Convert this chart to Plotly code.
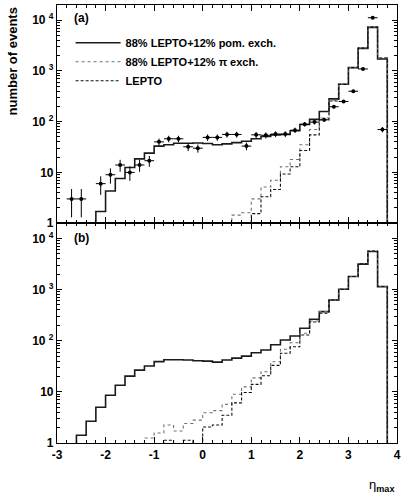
import numpy as np
import plotly.graph_objects as go

# bin edges of eta_max histograms (0.2 wide, -3 .. 4)
bin_edges = np.round(np.arange(-3.0, 4.0001, 0.2), 1).tolist()

# ---- panel (a) ----
a_pom = [0.5, 0.5, 0.5, 0.5, 1.7, 4.3, 7.6, 12.5, 18.5, 24, 33, 35, 37.5, 37.5, 38,
         37, 35, 36.5, 38.6, 41, 46, 51, 55, 56, 66, 88, 111, 159, 281, 546, 1160, 2770, 7200, 1720, 0.1]
a_pi = [0.5, 0.5, 0.5, 0.5, 0.5, 0.5, 0.5, 0.5, 0.5, 0.5, 0.5, 0.5, 0.5, 0.5, 0.5,
        0.5, 0.5, 0.5, 1.44, 1.6, 3.0, 5.15, 7.0, 12.9, 18, 35, 70, 118, 265, 546, 1160, 2850, 7400, 1800, 0.1]
a_lepto = [0.5, 0.5, 0.5, 0.5, 0.5, 0.5, 0.5, 0.5, 0.5, 0.5, 0.5, 0.5, 0.5, 0.5, 0.5,
           0.5, 0.5, 0.5, 0.5, 0.5, 1.54, 3.3, 4.6, 9.3, 12.9, 27, 55, 108, 255, 546, 1160, 2850, 7400, 1800, 0.1]

data_x = [-2.7, -2.5, -2.1, -1.9, -1.7, -1.5, -1.3, -1.1, -0.9, -0.7, -0.5, -0.3, -0.1, 0.1, 0.3, 0.5,
          0.7, 0.9, 1.1, 1.3, 1.5, 1.7, 1.9, 2.1, 2.3, 2.5, 2.7, 2.9, 3.1, 3.3, 3.5, 3.7]
data_y = [3, 3, 6, 9, 14, 10, 14, 17, 40, 46, 46, 32, 30, 49, 49, 56,
          56, 33, 55, 54, 57, 57, 68, 89, 98, 109, 197, 250, 398, 1095, 11200, 70]
data_err = [1.7, 1.7, 2.4, 3.0, 3.7, 3.2, 3.7, 4.1, 6.3, 6.8, 6.8, 5.7, 5.5, 7.0, 7.0, 7.5,
            7.5, 5.7, 7.4, 7.3, 7.5, 7.5, 8.2, 9.4, 9.9, 10.4, 14, 16, 20, 33, 106, 8.4]

# ---- panel (b) ----
b_pom = [0.5, 0.5, 1.42, 2.66, 5.0, 8.6, 13.5, 20.3, 26.6, 32, 39, 42.4, 42.4, 42, 40.5,
         40, 38.2, 42, 45.7, 50, 58, 66, 83.5, 103, 124, 175, 263, 370, 628, 1018, 1800, 3150, 5560, 1145, 0.1]
b_pi = [0.5, 0.5, 0.5, 0.5, 0.5, 0.5, 0.5, 0.5, 0.5, 1.25, 1.57, 2.25, 1.72, 2.4, 2.8,
        3.9, 4.3, 5.7, 9.0, 12.5, 18.8, 24.7, 38.7, 68, 91, 140, 243, 370, 628, 1018, 1800, 3200, 5700, 1150, 0.1]
b_lepto = [0.5, 0.5, 0.5, 0.5, 0.5, 0.5, 0.5, 0.5, 0.5, 0.5, 0.5, 1.13, 0.5, 1.13, 0.5,
           2.06, 2.25, 3.5, 6.1, 9.7, 14, 20.6, 33, 57, 76, 129, 233, 344, 628, 1018, 1800, 3200, 5700, 1150, 0.1]

y_tickvals = [1, 10, 100, 1000, 10000]
y_ticktext = ["<b>1</b>", "<b>10</b>", "<b>10 <sup>2</sup></b>", "<b>10 <sup>3</sup></b>", "<b>10 <sup>4</sup></b>"]
y_minor = [m * 10 ** d for d in range(0, 5) for m in range(2, 10) if m * 10 ** d < 20000]
x_tickvals = [-3, -2, -1, 0, 1, 2, 3, 4]
x_ticktext = ["<b>-3</b>", "<b>-2</b>", "<b>-1</b>", "<b>0</b>", "<b>1</b>", "<b>2</b>", "<b>3</b>", "<b>4</b>"]

legend_names = ["88% LEPTO+12% pom. exch.", "88% LEPTO+12% \u03c0 exch.", "LEPTO"]

FONT = "Liberation Sans, Arial, Helvetica, sans-serif"


def step_xy(vals):
    return bin_edges, list(vals) + [vals[-1]]


styles = [
    dict(color="#1a1a1a", width=1.6, dash="solid"),
    dict(color="#707070", width=1.1, dash="dot"),
    dict(color="#111111", width=1.1, dash="3px,2px"),
]

fig = go.Figure()

for i, (vals, st) in enumerate(zip([a_pom, a_pi, a_lepto], styles)):
    x, y = step_xy(vals)
    fig.add_trace(go.Scatter(x=x, y=y, mode="lines", line=dict(shape="hv", **st),
                             name="<b>" + legend_names[i] + "</b>", showlegend=True,
                             xaxis="x", yaxis="y"))

fig.add_trace(go.Scatter(x=data_x, y=data_y, mode="markers",
                         marker=dict(color="black", size=4),
                         error_y=dict(type="data", array=data_err, color="black", thickness=1, width=0),
                         error_x=dict(type="constant", value=0.1, color="black", thickness=1, width=0),
                         showlegend=False, xaxis="x", yaxis="y"))

for vals, st in zip([b_pom, b_pi, b_lepto], styles):
    x, y = step_xy(vals)
    fig.add_trace(go.Scatter(x=x, y=y, mode="lines", line=dict(shape="hv", **st),
                             showlegend=False, xaxis="x2", yaxis="y2"))

split = 0.502

xcommon = dict(range=[-3, 4], showgrid=False, zeroline=False, showline=True, linecolor="black",
               linewidth=1.2, mirror="ticks", ticks="inside", ticklen=6, tickwidth=1, tickcolor="black",
               tickmode="array", tickvals=x_tickvals, ticktext=x_ticktext,
               minor=dict(dtick=0.2, tick0=0, ticks="inside", ticklen=3, tickwidth=1, tickcolor="black",
                          showgrid=False),
               tickfont=dict(family=FONT, size=12, color="black"))
ycommon = dict(type="log", range=[0, 4.3], showgrid=False, zeroline=False, showline=True,
               linecolor="black", linewidth=1.2, mirror="ticks", ticks="inside", ticklen=5, tickwidth=1,
               tickcolor="black", tickmode="array", tickvals=y_tickvals, ticktext=y_ticktext,
               minor=dict(tickmode="array", tickvals=y_minor, ticks="inside", ticklen=2.5, tickwidth=1,
                          tickcolor="black", showgrid=False),
               tickfont=dict(family=FONT, size=12, color="black"))

fig.update_layout(
    width=405, height=496,
    margin=dict(l=57, r=5, t=4, b=53),
    paper_bgcolor="white", plot_bgcolor="white",
    xaxis=dict(anchor="y", showticklabels=False, **xcommon),
    yaxis=dict(domain=[split, 1], anchor="x", **ycommon),
    xaxis2=dict(anchor="y2", showticklabels=True, **xcommon),
    yaxis2=dict(domain=[0, split], anchor="x2", **ycommon),
    showlegend=True,
    legend=dict(x=0.04, y=0.947, xanchor="left", yanchor="top", bgcolor="rgba(0,0,0,0)",
                font=dict(family=FONT, size=11, color="black"),
                itemwidth=45, tracegroupgap=0),
    font=dict(family=FONT, color="black"),
    annotations=[
        dict(text="<b>(a)</b>", x=0.073, y=0.97, xref="paper", yref="paper", showarrow=False,
             xanchor="center", yanchor="middle", font=dict(family=FONT, size=12, color="black")),
        dict(text="<b>(b)</b>", x=0.073, y=0.467, xref="paper", yref="paper", showarrow=False,
             xanchor="center", yanchor="middle", font=dict(family=FONT, size=12, color="black")),
        dict(text="<b>number of events</b>", x=-0.131, y=1.0, xref="paper", yref="paper",
             showarrow=False, textangle=-90, xanchor="center", yanchor="top",
             font=dict(family=FONT, size=13, color="black")),
        dict(text="\u03b7<sub><b>max</b></sub>", x=0.955, y=-0.096, xref="paper", yref="paper",
             showarrow=False, xanchor="center", yanchor="middle",
             font=dict(family=FONT, size=13, color="black")),
    ],
)

fig.write_html(
    "out.html",
    config={"displayModeBar": False},
    post_script="document.body.style.margin='0';document.body.style.overflow='hidden';",
)
